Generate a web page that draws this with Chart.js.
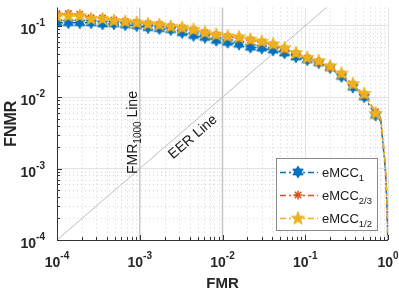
<!DOCTYPE html>
<html>
<head>
<meta charset="utf-8">
<script src="https://cdn.jsdelivr.net/npm/chart.js@4.4.1/dist/chart.umd.min.js"></script>
<style>
  html, body { margin: 0; padding: 0; background: #fff; }
</style>
</head>
<body>
<canvas id="detChart" width="399" height="291"></canvas>
<script>
// FMR where the markers sit (29 of them), then the steep tail close to FMR = 1
const fmr = [1.0e-4, 1.372e-4, 1.884e-4, 2.586e-4, 3.548e-4, 4.870e-4, 6.683e-4, 9.173e-4,
  1.259e-3, 1.728e-3, 2.371e-3, 3.255e-3, 4.467e-3, 6.131e-3, 8.414e-3,
  1.155e-2, 1.585e-2, 2.175e-2, 2.985e-2, 4.097e-2, 5.623e-2, 7.718e-2,
  0.1059, 0.1454, 0.1995, 0.2738, 0.3758, 0.5158, 0.7079,
  0.82, 0.87, 0.92, 0.95, 0.97, 0.985, 0.995];

const fnmrMcc1 = [0.110, 0.110, 0.110, 0.110, 0.106, 0.106, 0.103, 0.100, 0.094, 0.091, 0.088,
  0.080, 0.073, 0.0686, 0.0624, 0.0586, 0.0551, 0.050, 0.0485, 0.0456, 0.0415, 0.0366,
  0.0333, 0.0303, 0.0259, 0.0195, 0.0138, 0.0101, 0.0056,
  0.0046, 0.0022, 0.0011, 0.0006, 0.0003, 0.00016, 0.00009];

const fnmrMcc23 = [0.148, 0.148, 0.145, 0.130, 0.128, 0.120, 0.115, 0.111, 0.107, 0.104, 0.097,
  0.093, 0.087, 0.080, 0.074, 0.070, 0.067, 0.063, 0.059, 0.054, 0.047, 0.041,
  0.035, 0.031, 0.026, 0.021, 0.015, 0.0108, 0.0062,
  0.0049, 0.0024, 0.0012, 0.00065, 0.00034, 0.00017, 0.0001];

const fnmrMcc12 = [0.137, 0.137, 0.137, 0.124, 0.124, 0.117, 0.114, 0.110, 0.106, 0.103, 0.097,
  0.094, 0.088, 0.080, 0.075, 0.071, 0.069, 0.064, 0.060, 0.055, 0.0485, 0.0415,
  0.0355, 0.032, 0.027, 0.0215, 0.0152, 0.0111, 0.0059,
  0.0050, 0.0025, 0.0013, 0.0007, 0.00037, 0.00019, 0.0001];

const markerCount = 29;
const seriesSubs = ['1', '2/3', '1/2'];
const xTickExps = [-4, -3, -2, -1, 0];
const yTickExps = [-4, -3, -2, -1];
const xRange = [1e-4, 1];
const yRange = [1e-4, 0.18];

const BLUE = '#0072BD', RED = '#D95319', YELLOW = '#EDB120';
const FONT = '"Liberation Sans", Arial, sans-serif';

// filled star marker drawn once on a small canvas (hexagram / pentagram)
function starMarker(points, outer, inner, color) {
  const size = Math.ceil(outer * 2 + 2);
  const c = document.createElement('canvas');
  c.width = c.height = size;
  const g = c.getContext('2d');
  g.translate(size / 2, size / 2);
  g.beginPath();
  for (let k = 0; k < points * 2; k++) {
    const r = k % 2 ? inner : outer;
    const a = -Math.PI / 2 + k * Math.PI / points;
    g.lineTo(r * Math.cos(a), r * Math.sin(a));
  }
  g.closePath();
  g.fillStyle = color;
  g.fill();
  g.strokeStyle = color;
  g.lineWidth = 0.8;
  g.stroke();
  return c;
}

const hexBlue = starMarker(6, 6, 3.5, BLUE);
const pentYellow = starMarker(5, 7, 2.9, YELLOW);

const toXY = vals => vals.map((v, i) => ({ x: fmr[i], y: v }));
const markerRadius = r => ctx => ctx.dataIndex < markerCount ? r : 0;
const dashDot = [6, 3, 2, 3];

const isDecade = v => Math.abs(Math.log10(v) - Math.round(Math.log10(v))) < 1e-6;

function drawPower(ctx, exp, x, y, align) {
  ctx.font = 'bold 14px ' + FONT;
  const wBase = ctx.measureText('10').width;
  ctx.font = 'bold 10px ' + FONT;
  const wExp = ctx.measureText(exp).width;
  const left = align === 'right' ? x - wBase - wExp : x - (wBase + wExp) / 2;
  ctx.textAlign = 'left';
  ctx.textBaseline = 'alphabetic';
  ctx.font = 'bold 14px ' + FONT;
  ctx.fillText('10', left, y);
  ctx.font = 'bold 10px ' + FONT;
  ctx.fillText(exp, left + wBase, y - 8);
}

function drawAsterisk(ctx, x, y, r, color) {
  ctx.save();
  ctx.strokeStyle = color;
  ctx.lineWidth = 1.5;
  ctx.beginPath();
  for (let k = 0; k < 4; k++) {
    const a = k * Math.PI / 4;
    ctx.moveTo(x - r * Math.cos(a), y - r * Math.sin(a));
    ctx.lineTo(x + r * Math.cos(a), y + r * Math.sin(a));
  }
  ctx.stroke();
  ctx.restore();
}

const detDecor = {
  id: 'detDecor',
  beforeDatasetsDraw(chart) {
    // dotted minor grid
    const { ctx, chartArea: a, scales } = chart;
    ctx.save();
    ctx.strokeStyle = '#d4d4d4';
    ctx.lineWidth = 1;
    ctx.setLineDash([1, 3]);
    for (let d = -4; d < 0; d++) {
      for (let m = 2; m <= 9; m++) {
        const v = m * Math.pow(10, d);
        const px = Math.round(scales.x.getPixelForValue(v)) + 0.5;
        ctx.beginPath(); ctx.moveTo(px, a.top); ctx.lineTo(px, a.bottom); ctx.stroke();
        if (v <= yRange[1]) {
          const py = Math.round(scales.y.getPixelForValue(v)) + 0.5;
          ctx.beginPath(); ctx.moveTo(a.left, py); ctx.lineTo(a.right, py); ctx.stroke();
        }
      }
    }
    ctx.restore();
  },
  afterDatasetsDraw(chart) {
    const { ctx, chartArea: a, scales } = chart;
    const sx = scales.x, sy = scales.y;
    ctx.save();

    // axis lines and inward ticks
    ctx.strokeStyle = '#333';
    ctx.lineWidth = 1;
    ctx.beginPath();
    ctx.moveTo(a.left + 0.5, a.top); ctx.lineTo(a.left + 0.5, a.bottom + 0.5);
    ctx.lineTo(a.right, a.bottom + 0.5);
    for (let d = -4; d <= 0; d++) {
      for (let m = 1; m <= 9; m++) {
        const v = m * Math.pow(10, d);
        if (v > 1) break;
        const len = m === 1 ? 5 : 3;
        const px = Math.round(sx.getPixelForValue(v)) + 0.5;
        ctx.moveTo(px, a.bottom); ctx.lineTo(px, a.bottom - len);
        if (v <= yRange[1]) {
          const py = Math.round(sy.getPixelForValue(v)) + 0.5;
          ctx.moveTo(a.left, py); ctx.lineTo(a.left + len, py);
        }
      }
    }
    ctx.stroke();

    // tick labels
    ctx.fillStyle = '#262626';
    xTickExps.forEach(e => drawPower(ctx, String(e), sx.getPixelForValue(Math.pow(10, e)), 267, 'center'));
    yTickExps.forEach(e => drawPower(ctx, String(e), 45, sy.getPixelForValue(Math.pow(10, e)) + 8, 'right'));

    // axis titles
    ctx.font = 'bold 15px ' + FONT;
    ctx.textAlign = 'center';
    ctx.textBaseline = 'alphabetic';
    ctx.fillText('FMR', (a.left + a.right) / 2, 288);
    ctx.save();
    ctx.translate(16, (a.top + a.bottom) / 2);
    ctx.rotate(-Math.PI / 2);
    ctx.font = 'bold 16px ' + FONT;
    ctx.fillText('FNMR', 0, 0);
    ctx.restore();

    // EER line label, along the diagonal
    const x0 = sx.getPixelForValue(1e-4), y0 = sy.getPixelForValue(1e-4);
    const x1 = sx.getPixelForValue(1), y1 = sy.getPixelForValue(1);
    const ang = Math.atan2(y1 - y0, x1 - x0);
    ctx.save();
    ctx.translate(sx.getPixelForValue(0.0036), sy.getPixelForValue(0.0036));
    ctx.rotate(ang);
    ctx.font = '14px ' + FONT;
    ctx.textAlign = 'center';
    ctx.textBaseline = 'top';
    ctx.fillStyle = '#1a1a1a';
    ctx.fillText('EER Line', 0, 4);
    ctx.restore();

    // FMR1000 line label, vertical
    ctx.save();
    ctx.translate(sx.getPixelForValue(1e-3) - 3, 174);
    ctx.rotate(-Math.PI / 2);
    ctx.fillStyle = '#1a1a1a';
    ctx.textAlign = 'left';
    ctx.textBaseline = 'alphabetic';
    ctx.font = '14px ' + FONT;
    ctx.fillText('FMR', 0, 0);
    let w = ctx.measureText('FMR').width;
    ctx.font = '10px ' + FONT;
    ctx.fillText('1000', w, 4);
    w += ctx.measureText('1000').width;
    ctx.font = '14px ' + FONT;
    ctx.fillText(' Line', w, 0);
    ctx.restore();

    // legend box
    const lx = 276, ly = 158, lw = 101, lh = 72;
    ctx.fillStyle = '#fff';
    ctx.fillRect(lx, ly, lw, lh);
    ctx.strokeStyle = '#8a8a8a';
    ctx.lineWidth = 1;
    ctx.strokeRect(lx + 0.5, ly + 0.5, lw, lh);
    const rows = [172, 195, 218];
    const colors = [BLUE, RED, YELLOW];
    rows.forEach((ry, i) => {
      ctx.save();
      ctx.strokeStyle = colors[i];
      ctx.lineWidth = 1.5;
      ctx.setLineDash(dashDot);
      ctx.beginPath(); ctx.moveTo(280, ry + 0.5); ctx.lineTo(318, ry + 0.5); ctx.stroke();
      ctx.restore();
      if (i === 0) ctx.drawImage(hexBlue, 298 - hexBlue.width / 2, ry - hexBlue.height / 2);
      if (i === 1) drawAsterisk(ctx, 298, ry, 4.5, RED);
      if (i === 2) ctx.drawImage(pentYellow, 298 - pentYellow.width / 2, ry - pentYellow.height / 2 + 0.5);
      ctx.fillStyle = '#1a1a1a';
      ctx.textAlign = 'left';
      ctx.font = '13px ' + FONT;
      ctx.fillText('eMCC', 322, ry + 5);
      const tw = ctx.measureText('eMCC').width;
      ctx.font = '9.5px ' + FONT;
      ctx.fillText(seriesSubs[i], 322 + tw, ry + 9);
    });

    ctx.restore();
  }
};

new Chart(document.getElementById('detChart').getContext('2d'), {
  type: 'line',
  data: {
    datasets: [
      {
        label: 'eMCC1', data: toXY(fnmrMcc1),
        borderColor: BLUE, borderWidth: 1.5, borderDash: dashDot,
        pointStyle: hexBlue, pointRadius: markerRadius(5), order: 2
      },
      {
        label: 'eMCC2/3', data: toXY(fnmrMcc23),
        borderColor: RED, backgroundColor: RED, borderWidth: 1.5, borderDash: dashDot,
        pointStyle: 'star', pointRadius: markerRadius(4.5), pointBorderWidth: 1.5, order: 1
      },
      {
        label: 'eMCC1/2', data: toXY(fnmrMcc12),
        borderColor: YELLOW, borderWidth: 1.5, borderDash: dashDot,
        pointStyle: pentYellow, pointRadius: markerRadius(6), order: 0
      },
      // reference lines
      {
        label: 'EER', data: [{ x: 1e-4, y: 1e-4 }, { x: 1, y: 1 }],
        borderColor: '#bdbdbd', borderWidth: 1, pointRadius: 0, order: 5
      },
      {
        label: 'FMR1000', data: [{ x: 1e-3, y: yRange[0] }, { x: 1e-3, y: yRange[1] }],
        borderColor: '#c6c6c6', borderWidth: 1.5, pointRadius: 0, order: 6
      },
      {
        label: 'FMR100', data: [{ x: 1e-2, y: yRange[0] }, { x: 1e-2, y: yRange[1] }],
        borderColor: '#c6c6c6', borderWidth: 1.5, pointRadius: 0, order: 6
      }
    ]
  },
  options: {
    responsive: false,
    devicePixelRatio: 1,
    animation: false,
    events: [],
    layout: { padding: { top: 1, right: 11, left: 0, bottom: 0 } },
    plugins: { legend: { display: false }, tooltip: { enabled: false } },
    elements: { line: { tension: 0, fill: false }, point: { hoverRadius: 0 } },
    scales: {
      x: {
        type: 'logarithmic', min: xRange[0], max: xRange[1],
        ticks: { display: false },
        grid: { drawTicks: false, color: c => (c.tick && isDecade(c.tick.value)) ? '#e2e2e2' : 'rgba(0,0,0,0)' },
        border: { display: false },
        afterFit: s => { s.height = 51; }
      },
      y: {
        type: 'logarithmic', min: yRange[0], max: yRange[1],
        ticks: { display: false },
        grid: { drawTicks: false, color: c => (c.tick && isDecade(c.tick.value)) ? '#e2e2e2' : 'rgba(0,0,0,0)' },
        border: { display: false },
        afterFit: s => { s.width = 57; }
      }
    }
  },
  plugins: [detDecor]
});
</script>
</body>
</html>
